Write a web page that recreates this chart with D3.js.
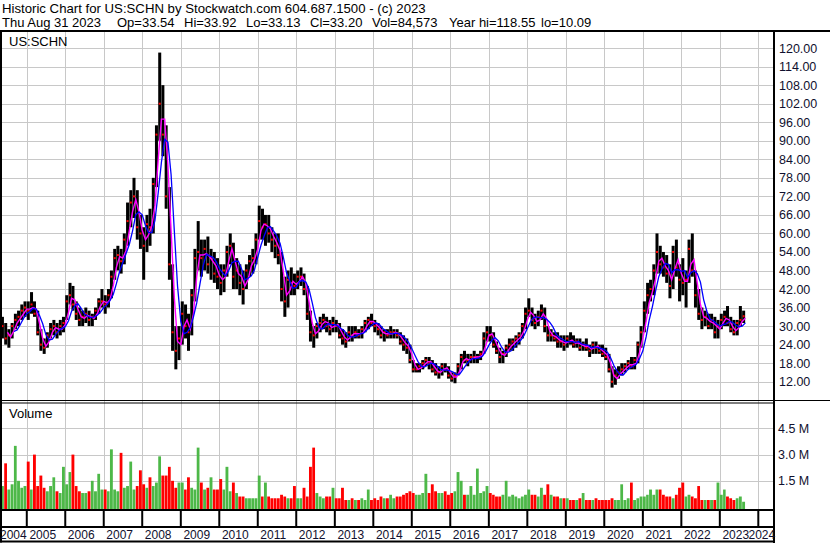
<!DOCTYPE html>
<html>
<head>
<meta charset="utf-8">
<script src="https://cdn.jsdelivr.net/npm/d3@7/dist/d3.min.js"></script>
<style>
body { margin: 0; background: #fff; }
svg { display: block; font-family: "Liberation Sans", Arial, sans-serif; }
</style>
</head>
<body>
<svg id="chart" width="830" height="543"></svg>
<script>
// monthly bars, first one is May 2004
const firstMonth = [2004, 4];

const highs = [
    33, 31, 29, 31, 34, 35, 37, 38,
    38, 41, 38, 35, 29, 26, 28, 31, 32, 31, 32, 33,
    40, 44, 43, 38, 36, 35, 36, 35, 34, 36, 39, 42,
    40, 42, 48, 55, 56, 55, 60, 70, 74, 78, 74, 66,
    62, 66, 68, 78, 95, 118.55, 108, 95, 75, 50, 30, 30,
    38, 37, 34, 42, 55, 64, 58, 58, 59, 55, 54, 52,
    50, 50, 56, 60, 57, 52, 50, 48, 50, 53, 55, 60,
    69, 68, 66, 66, 62, 60, 60, 54, 46, 48, 49, 47,
    48, 49, 47, 43, 35, 30, 31, 33, 34, 33, 32, 33,
    32, 31, 29, 28, 30, 30, 30, 29, 30, 32, 33, 34,
    32, 31, 30, 29, 29, 30, 29, 29, 28, 27, 26, 24,
    19, 18, 18, 19, 20, 20, 19, 18, 17, 18, 18, 17,
    15, 15, 18, 21, 22, 21, 21, 22, 21, 22, 28, 30,
    30, 28, 25, 23, 22, 24, 26, 26, 27, 28, 31, 36,
    39, 36, 34, 35, 37, 36, 30, 29, 28, 28, 27, 27,
    27, 28, 27, 26, 26, 25, 26, 24, 25, 25, 24, 24,
    23, 21, 17, 16, 17, 18, 18, 19, 20, 20, 25, 30,
    38, 44, 45, 50, 60, 56, 54, 53, 50, 56, 58, 50,
    52, 48, 58, 60, 48, 42, 36, 35, 34, 34, 33, 32,
    34, 35, 36.5, 33, 32, 32, 36.5, 35
];

const lows = [
    26, 24, 23, 26, 29, 30, 32, 33,
    32, 34, 33, 27, 22, 21, 23, 26, 27, 26, 27, 28,
    32, 37, 35, 32, 30, 30, 31, 30, 30, 32, 34, 36,
    34, 36, 39, 45, 48, 47, 50, 56, 62, 65, 58, 55,
    45, 54, 56, 60, 75, 90, 85, 68, 45, 22, 16, 19,
    24, 26, 22, 27, 38, 48, 46, 48, 47, 45, 44, 42,
    40, 41, 46, 50, 42, 42, 40, 37, 42, 46, 47, 50,
    58, 58, 56, 57, 54, 52, 50, 38, 33, 36, 40, 40,
    42, 43, 40, 32, 25, 23, 26, 28, 29, 28, 27, 28,
    28, 26, 24, 23, 25, 25, 26, 26, 26, 28, 29, 30,
    28, 27, 26, 25, 26, 26, 26, 26, 24, 22, 21, 18,
    15, 15, 15, 16, 17, 16, 15, 14, 13, 14, 15, 13,
    12, 11.5, 14, 16, 18, 17, 18, 18, 18, 19, 21, 25,
    25, 23, 21, 18, 18, 20, 22, 22, 23, 24, 26, 29,
    33, 30, 29, 30, 32, 28, 25, 25, 25, 23, 23, 22,
    23, 24, 23, 23, 22, 22, 22, 20, 21, 21, 21, 20,
    19, 15, 10.09, 11, 13, 14, 15, 16, 16, 16, 18, 23,
    28, 34, 38, 40, 47, 47, 46, 44, 39, 42, 46, 38,
    40, 36, 44, 46, 36, 32, 29, 30, 29, 29, 26, 26,
    29, 30, 30, 28, 27, 27, 30, 31
];

const closes = [
    30, 26, 27, 30, 32, 33, 35, 36,
    35, 37, 34, 28, 24, 23, 27, 29, 30, 28, 30, 31,
    38, 40, 37, 34, 32, 33, 34, 32, 33, 35, 38, 38,
    37, 40, 46, 52, 53, 51, 58, 64, 70, 72, 62, 60,
    56, 63, 62, 76, 92, 102, 92, 72, 50, 28, 22, 26,
    34, 30, 28, 40, 52, 54, 52, 55, 50, 52, 47, 46,
    44, 48, 54, 56, 46, 48, 44, 42, 48, 51, 52, 58,
    64, 62, 63, 60, 58, 56, 53, 42, 38, 45, 44, 43,
    46, 46, 42, 34, 28, 27, 30, 31, 32, 30, 29, 31,
    30, 27, 26, 25, 28, 27, 28, 27, 29, 31, 32, 31,
    30, 29, 27, 28, 27, 28, 28, 27, 25, 24, 23, 19,
    16, 16, 17, 18, 19, 18, 16, 15, 15, 17, 16, 14,
    13, 14, 17, 20, 19, 19, 20, 20, 20, 21, 26, 28,
    27, 24, 22, 20, 21, 23, 24, 25, 26, 27, 30, 34,
    35, 32, 31, 33, 35, 30, 27, 27, 26, 25, 25, 24,
    26, 25, 24, 25, 23, 24, 23, 22, 24, 23, 22, 21,
    20, 16, 12, 14, 15, 16, 17, 18, 17, 19, 24, 28,
    35, 40, 42, 48, 54, 50, 49, 47, 43, 54, 49, 45,
    44, 45, 55, 48, 40, 34, 32, 33, 30, 32, 28, 30,
    32, 33, 31, 29, 28, 31, 32, 33.2
];

// millions of shares
const volumes = [
    1.2, 2.5, 1.0, 1.3, 3.5, 1.5, 1.1, 1.2,
    2.6, 1.0, 3.0, 1.2, 1.8, 1.1, 0.9, 1.2, 1.7, 0.9, 0.8, 2.3,
    1.3, 2.0, 3.0, 1.2, 0.9, 0.8, 0.8, 0.9, 1.5, 0.9, 1.9, 1.0,
    1.0, 0.9, 3.3, 1.0, 0.9, 3.1, 1.1, 1.2, 2.6, 1.0, 1.2, 2.1,
    1.3, 1.1, 1.7, 1.2, 1.4, 2.9, 1.8, 1.8, 2.3, 1.5, 1.1, 1.4,
    1.4, 1.0, 1.7, 1.1, 1.0, 3.4, 1.4, 1.0, 1.1, 1.7, 1.0, 1.0,
    1.6, 1.0, 2.3, 0.9, 1.4, 0.8, 0.6, 0.6, 0.5, 0.5, 0.5, 0.5,
    1.8, 0.6, 1.4, 0.6, 0.5, 0.5, 0.5, 0.7, 0.6, 0.5, 0.5, 1.2,
    0.5, 0.5, 1.1, 0.6, 2.3, 3.4, 0.8, 0.6, 0.5, 0.6, 0.6, 1.1,
    0.5, 0.5, 1.1, 0.4, 0.4, 0.5, 0.4, 0.4, 0.5, 0.4, 1.0, 0.4,
    0.5, 0.4, 0.6, 0.5, 0.5, 0.7, 0.5, 0.6, 0.6, 0.7, 0.8, 0.9,
    0.8, 0.7, 0.7, 0.8, 1.9, 0.8, 1.3, 0.9, 0.8, 0.8, 0.9, 0.7,
    0.8, 0.9, 2.0, 1.5, 0.7, 0.7, 1.2, 0.7, 2.2, 0.8, 0.9, 1.2,
    0.8, 0.7, 0.6, 0.6, 0.7, 1.5, 0.6, 0.7, 0.6, 0.5, 0.6, 0.7,
    1.0, 0.7, 0.7, 0.6, 1.1, 0.7, 1.3, 0.7, 0.6, 0.6, 0.5, 0.5,
    0.5, 0.4, 0.4, 0.4, 0.5, 0.8, 0.4, 0.4, 0.4, 0.5, 0.4, 0.4,
    0.4, 0.4, 0.5, 0.4, 0.4, 1.3, 0.4, 0.5, 1.4, 0.4, 0.5, 0.6,
    0.6, 0.7, 1.0, 0.7, 1.0, 1.0, 0.7, 0.6, 0.6, 0.5, 0.7, 1.1,
    1.4, 0.6, 0.7, 0.6, 0.5, 1.2, 0.4, 0.4, 0.4, 0.4, 0.4, 1.4,
    0.7, 1.0, 0.6, 0.5, 0.4, 0.5, 0.6, 0.3
];

const years = [2004, 2005, 2006, 2007, 2008, 2009, 2010, 2011, 2012, 2013, 2014,
    2015, 2016, 2017, 2018, 2019, 2020, 2021, 2022, 2023, 2024];
const priceTicks = [12, 18, 24, 30, 36, 42, 48, 54, 60, 66, 72, 78, 84, 90, 96, 102, 108, 114, 120];
const volumeTicks = [1.5, 3.0, 4.5];

const title = "Historic Chart for US:SCHN by Stockwatch.com 604.687.1500 - (c) 2023";
const quoteFields = [
    {x: 2, t: "Thu Aug 31 2023"}, {x: 117, t: "Op=33.54"}, {x: 184, t: "Hi=33.92"},
    {x: 246, t: "Lo=33.13"}, {x: 310, t: "Cl=33.20"}, {x: 372, t: "Vol=84,573"},
    {x: 449, t: "Year hi=118.55"}, {x: 541, t: "lo=10.09"}
];

const svg = d3.select("#chart");
const axisRight = 774;
const gridColor = "#c8c8c8";
const labelColor = "#10102e";

const bars = highs.map((h, i) => ({
    date: new Date(firstMonth[0], firstMonth[1] + i, 15),
    start: new Date(firstMonth[0], firstMonth[1] + i, 1),
    end: new Date(firstMonth[0], firstMonth[1] + i + 1, 1),
    high: h, low: lows[i], close: closes[i], volume: volumes[i],
    up: i === 0 || closes[i] >= closes[i - 1]
}));

const xScale = d3.scaleTime()
    .domain([new Date(2004, 0, 1), new Date(2024, 0, 1)])
    .range([-11.8, 758.3]);
const yScale = d3.scaleLinear().domain([12, 120]).range([381.7, 48.1]);
const vScale = d3.scaleLinear().domain([0, 6]).range([507, 402.2]);

// simple average of the last n monthly closes, put at month end
function MovingAverage(n) {
    return bars.map((d, i) => i < n - 1 ? null :
        {date: d.end, value: d3.mean(closes.slice(i - n + 1, i + 1))});
}

function AddLine(g, data, color, width) {
    const line = d3.line()
        .defined(d => d !== null)
        .curve(d3.curveLinear)
        .x(d => xScale(d.date))
        .y(d => yScale(d.value));
    return g.append("path")
        .attr("fill", "none")
        .attr("stroke", color)
        .attr("stroke-width", width)
        .attr("d", line(data));
}

function AddRule(x1, y1, x2, y2, width = 1, color = "#000") {
    svg.append("line")
        .attr("x1", x1).attr("y1", y1).attr("x2", x2).attr("y2", y2)
        .attr("stroke", color).attr("stroke-width", width);
}

// grid
const grid = svg.append("g").attr("stroke", gridColor).attr("stroke-width", 1);
grid.selectAll("line.vx")
    .data(years.slice(1))
    .join("line")
    .attr("x1", d => Math.round(xScale(new Date(d, 0, 1))) + 0.5)
    .attr("x2", d => Math.round(xScale(new Date(d, 0, 1))) + 0.5)
    .attr("y1", 32).attr("y2", 509);
grid.selectAll("line.hp")
    .data(priceTicks)
    .join("line")
    .attr("x1", 0).attr("x2", axisRight)
    .attr("y1", d => Math.round(yScale(d)) + 0.5)
    .attr("y2", d => Math.round(yScale(d)) + 0.5);
grid.selectAll("line.hv")
    .data(volumeTicks)
    .join("line")
    .attr("class", "hv")
    .attr("x1", 0).attr("x2", axisRight)
    .attr("y1", d => Math.round(vScale(d)) + 0.5)
    .attr("y2", d => Math.round(vScale(d)) + 0.5);

// volume
svg.append("g")
    .selectAll("rect")
    .data(bars)
    .join("rect")
    .attr("x", d => xScale(d.start))
    .attr("width", d => xScale(d.end) - xScale(d.start) - 0.4)
    .attr("y", d => vScale(d.volume))
    .attr("height", d => 509 - vScale(d.volume))
    .attr("fill", d => d.up ? "#4db848" : "#ff0000");

// price bars
svg.append("clipPath").attr("id", "pclip")
    .append("rect").attr("x", 2).attr("y", 32).attr("width", axisRight - 3).attr("height", 367);
const price = svg.append("g").attr("clip-path", "url(#pclip)");
price.selectAll("rect.bar")
    .data(bars)
    .join("rect")
    .attr("x", d => xScale(d.date) - 1.5)
    .attr("width", 3.0)
    .attr("y", d => yScale(d.high))
    .attr("height", d => yScale(d.low) - yScale(d.high))
    .attr("fill", "#000");
price.selectAll("rect.close")
    .data(bars)
    .join("rect")
    .attr("x", d => xScale(d.date) - 1)
    .attr("width", 2)
    .attr("y", d => yScale(d.close) - 1)
    .attr("height", 2)
    .attr("fill", "#ff0000");
AddLine(price, MovingAverage(2), "#ff00ff", 1.4);
AddLine(price, MovingAverage(4), "#0000ff", 1.3);

// frame
AddRule(0, 31, 830, 31, 2);
AddRule(1, 31, 1, 542.5, 2);
AddRule(axisRight, 31, axisRight, 543, 2);
AddRule(0, 400.5, 830, 400.5, 1.2);
AddRule(0, 403, axisRight, 403, 1.2);
AddRule(0, 510, axisRight, 510, 2);
AddRule(0, 527, axisRight, 527, 2);
AddRule(0, 541.5, axisRight, 541.5, 2);
svg.append("g")
    .selectAll("line")
    .data(years.slice(1))
    .join("line")
    .attr("x1", d => xScale(new Date(d, 0, 1)))
    .attr("x2", d => xScale(new Date(d, 0, 1)))
    .attr("y1", 510).attr("y2", 527)
    .attr("stroke", "#000").attr("stroke-width", 2);

// texts
svg.append("text").attr("x", 2).attr("y", 13).attr("font-size", 13.2).text(title);
svg.append("g").attr("font-size", 13)
    .selectAll("text")
    .data(quoteFields)
    .join("text")
    .attr("x", d => d.x).attr("y", 27)
    .text(d => d.t);
svg.append("text").attr("x", 9).attr("y", 46).attr("font-size", 13).text("US:SCHN");
svg.append("text").attr("x", 9).attr("y", 418).attr("font-size", 13).text("Volume");

svg.append("g").attr("font-size", 12.5).attr("fill", labelColor)
    .selectAll("text")
    .data(priceTicks)
    .join("text")
    .attr("x", 779)
    .attr("y", d => yScale(d) + 4.5)
    .text(d => d.toFixed(2));
svg.append("g").attr("font-size", 12.5).attr("fill", labelColor)
    .selectAll("text")
    .data(volumeTicks)
    .join("text")
    .attr("x", 778)
    .attr("y", d => vScale(d) + 4.5)
    .text(d => d.toFixed(1) + " M");
svg.append("g").attr("font-size", 12).attr("fill", labelColor)
    .selectAll("text")
    .data(years)
    .join("text")
    .attr("x", d => Math.min(Math.max(xScale(new Date(d, 0, 1)) + 2.6, 0), 748.5))
    .attr("y", 539)
    .text(d => d);
</script>
</body>
</html>
